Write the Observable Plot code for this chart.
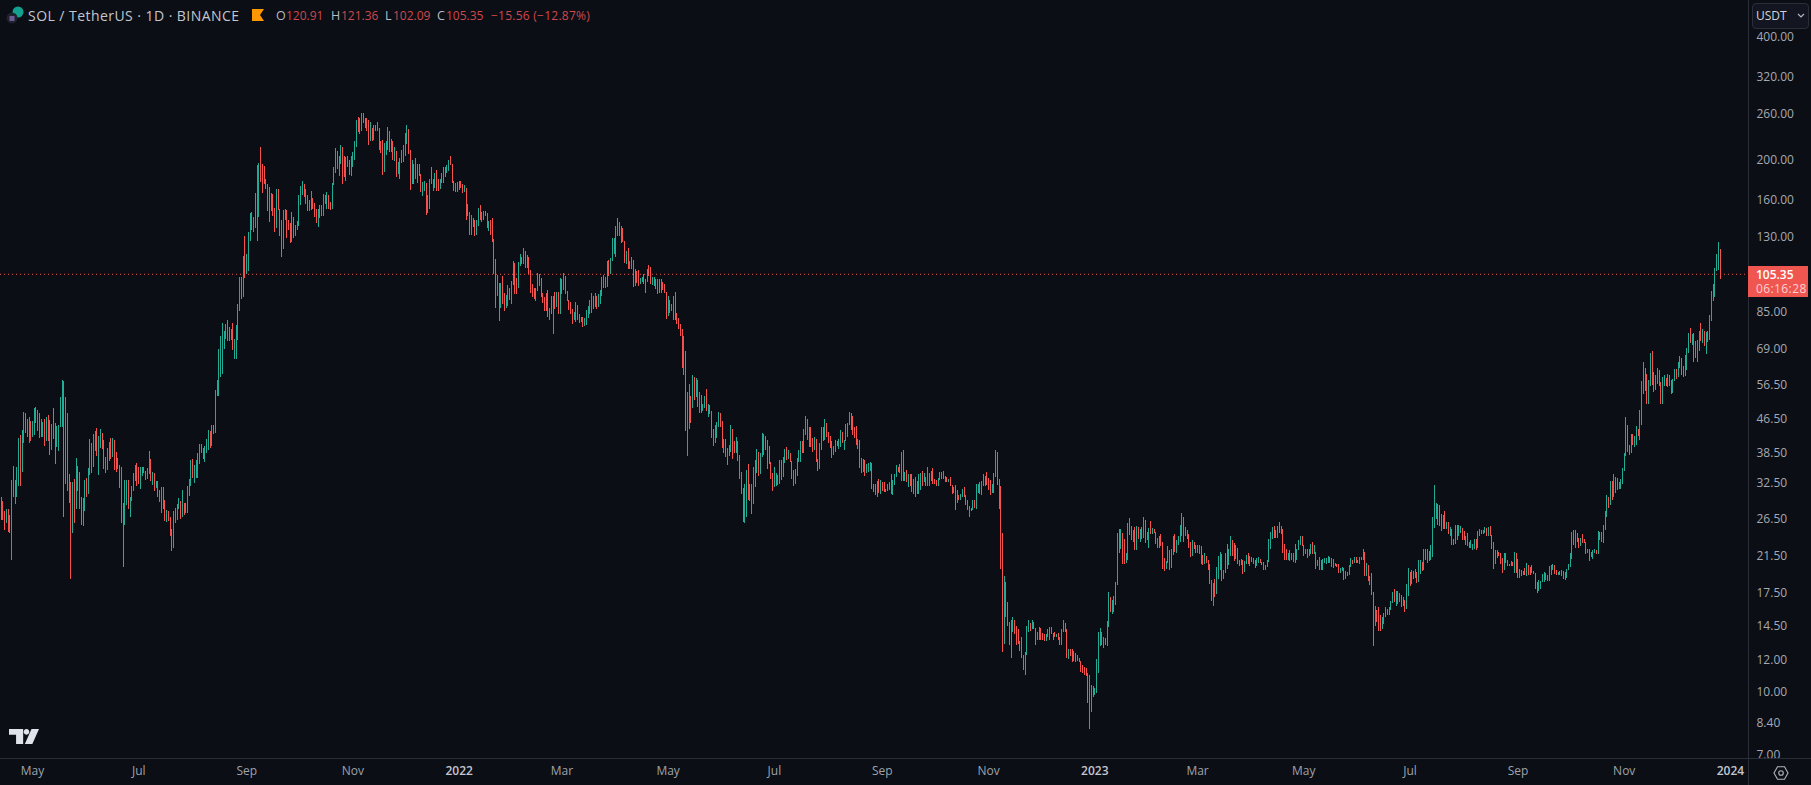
<!DOCTYPE html>
<html><head><meta charset="utf-8">
<script src="https://cdn.jsdelivr.net/npm/d3@7"></script>
<script src="https://cdn.jsdelivr.net/npm/@observablehq/plot@0.6"></script>
<style>
html,body{margin:0;padding:0;background:#0b0e14;width:1811px;height:785px;overflow:hidden;font-family:"Open Sans",sans-serif}
#chart{position:absolute;left:0;top:0}
.t{position:absolute;white-space:nowrap;line-height:16px}
.g{color:#b8bbc4;font-size:12.5px}.r{color:#d0474e;font-size:12px}
</style></head><body>
<div id="chart"></div>
<svg class="t" style="left:5px;top:5px" width="24" height="22"><circle cx="13" cy="7" r="5.5" fill="#14a08e"/><circle cx="7" cy="13" r="5.5" fill="#1e222d"/><rect x="4.5" y="11" width="5" height="5" fill="#6d5a93"/></svg>
<div class="t" style="left:28px;top:8px;font-size:14px;color:#c3c6cf;letter-spacing:.45px">SOL / TetherUS · 1D · BINANCE</div>
<svg class="t" style="left:252px;top:9px" width="13" height="13"><path d="M0 0H12L8 6L12 12H0Z" fill="#ff9800"/></svg>
<div class="t g" style="left:276px;top:8px">O</div><div class="t r" style="left:286px;top:8px">120.91</div>
<div class="t g" style="left:331px;top:8px">H</div><div class="t r" style="left:341px;top:8px">121.36</div>
<div class="t g" style="left:385px;top:8px">L</div><div class="t r" style="left:393px;top:8px">102.09</div>
<div class="t g" style="left:437px;top:8px">C</div><div class="t r" style="left:446px;top:8px">105.35</div>
<div class="t r" style="left:491px;top:8px;letter-spacing:.25px">−15.56 (−12.87%)</div>
<div class="t" style="left:1752px;top:3px;width:55px;height:24px;background:#131620;border:1px solid #2a2e39;border-radius:4px"></div>
<div class="t" style="left:1756px;top:8px;font-size:12px;color:#d1d4dc">USDT</div>
<svg class="t" style="left:1796px;top:12px" width="10" height="8"><path d="M2 2L5 5L8 2" fill="none" stroke="#b2b5be" stroke-width="1.2"/></svg>
<div class="t" style="left:1748px;top:266px;width:60px;height:31px;background:#f05650"></div>
<div class="t" style="left:1756px;top:267px;font-size:12px;font-weight:600;color:#fff">105.35</div>
<div class="t" style="left:1756px;top:281px;font-size:12px;color:#fbd0d3;letter-spacing:.4px">06:16:28</div>
<svg class="t" style="left:9px;top:729px" width="30" height="15" viewBox="0 0 36 18"><path d="M0 0H17V18H8.5V7H0ZM27 0H36L28 18H19ZM21 0a3.4 3.4 0 1 0 .01 0Z" fill="#e0e3eb"/></svg>
<svg class="t" style="left:1773px;top:765px" width="16" height="16" viewBox="0 0 16 16"><path d="M4.5 1.8H11.5L15 8L11.5 14.2H4.5L1 8Z" fill="none" stroke="#b2b5be" stroke-width="1.1"/><circle cx="8" cy="8" r="2.3" fill="none" stroke="#b2b5be" stroke-width="1.1"/></svg>
<script>
const firstOpen = 30;
const apr21 = [[26.3,30,28],[26.3,29.2,27],[24.8,27.6,25.8],[25.8,28,27],[24.6,28,24.9],[24.4,27,24.6],[21,33,31],[29.9,35.6,30],[28.8,33,31.5],[30,35.5,34],
[31.9,41.7,40],[31.9,42.5,37],[34.5,43.7,43],[40.6,48.4,45],[43,48,44],[42,46.5,43],[40.5,47,46],[41,45,44.5]];
const may21 = [[42,46,45.5],[42.4,49.4,47],[45.5,49.6,46],[43.5,49,45],[41.8,48,43],[42,46.5,44.5],[42,45.8,45],[40,46.5,41],[41,47,46],[41,47.5,45.5],
[38,46.3,39],[39.5,45.2,43.5],[41.5,49.5,42],[36,45.5,40],[39.8,44.8,43.5],[38.8,45,44.5],[44.5,52.5,51],[44.5,58,54],[26.7,57.5,36],[32.3,52.7,46],
[31,48,33.5],[29,34,31.5],[18.9,32.6,26],[24.5,32.5,31],[25.9,33.2,28],[29.2,37.3,35],[31,35.7,32],[28,34.5,29],[25.6,30,26.2],[25.4,29.7,28.5],[27.6,33,32.5]];
const jun21 = [[30,33.3,31],[30.5,35.2,34],[33.9,41.5,40.5],[34.3,39.7,35.5],[37,42.6,41],[38.9,43.4,42.5],[37.8,44.1,38.5],[33.9,42.3,39.5],[39.5,43.9,42.5],[39.3,43,40],
[35.1,41.3,36],[34.3,37.5,36.5],[34.8,39.5,39],[36.7,40.8,40],[37.1,41.8,38],[37.5,41.8,40.5],[34.9,41.3,37.5],[34.5,38.5,35],[35,37.3,35.3],[31.5,35.9,35],
[25.8,35.5,27],[20.2,29,26],[25.6,33,30],[28.7,33,31],[28,33,28.5],[26.7,30,29.5],[29.2,31.9,31.5],[31,34.3,33.5],[32.7,35.9,35],[31.8,36.2,34.5]];
const jul21 = [[32.3,35.5,33],[31.3,35.5,34.5],[33.8,35.5,35],[34.2,35.5,34.7],[33,34.7,33.3],[33.1,35.2,35],[34,38.7,37],[32.7,36.9,33],[32,34.5,33.5],[31,34.3,31.5],
[31.5,32.8,32.5],[30,32.7,30.5],[29.1,31.2,29.5],[27.4,31.6,30.5],[28,31.6,28.5],[26.2,29.5,27],[26,27.9,27.5],[26.1,27.7,26.5],[24,26.7,24.5],[22.1,25,22.5],
[22.8,27.6,26.5],[25.9,28.2,27.5],[26.3,28.8,28.5],[28,29.7,29.2],[26.4,29,26.8],[27.9,31.2,28],[27,29,27.8],[27.4,28.9,27.7],[27.4,31.9,31],[30.1,33.2,32.5],[31.9,36.9,36]];
const aug21 = [[33.4,37,34],[32.4,35.9,35],[33.4,36.8,36],[33.4,38.4,38],[36,40.4,39.5],[38.4,40.4,38.7],[37,39.5,37.5],[36.5,39.9,39.5],[38.4,41.5,41],[39.1,43.8,43.5],
[39.5,43.4,40],[40.7,44.9,44.5],[42.8,44.9,43],[43.2,54.8,54],[53,58,57],[53,69,62],[59,74,70],[60,80,71],[69,76.5,75.5],[73,79.5,78],
[72,81,74],[72,78,73],[72.5,77,76],[68.5,80,69.5],[65,73,71.5],[65,79,72.5],[72.6,89,87],[85.4,103.6,100],[91.5,103.6,92.5],[93.7,116.5,113],[102.9,130.6,108]];
const sep21 = [[105,118,115],[107,133,127],[127,148,145],[135,149.5,137],[133.5,145,138],[136.5,166,165],[127,194,170],[145,197,190],[177,215,182],[166,196,178],
[175,193,176],[170,180,172],[150,175,153],[141,172,150],[152,166,165],[146,162,149],[133,153,136],[144,170,160],[151,170,152],[130,152,136],
[116,143,121],[122,151,145],[143,152,150],[129,151,140],[135,143,136],[125,140,126],[135,149,145],[129,138,130],[132,139,138],[135,142,140]];
const oct21 = [[138,164,160],[155,173,170],[164,178,175],[162,172,164],[156,170,160],[150,164,152],[150,160,156],[151,168,160],[152,161,155],[145,157,148],
[140,152,142],[137,152,150],[144,155,146],[147,155,152],[146,165,163],[156,164,158],[152,167,164],[152,161,155],[151,158,152],[153,176,174],
[175,192,188],[186,214,210],[190,205,198],[183,205,200],[196,218,215],[175,213,185],[182,204,183],[178,203,195],[192,205,200],[184,200,187],[183,205,200]];
const nov21 = [[192,209,205],[200,223,218],[215,250,245],[234,255,240],[232,254,236],[236,260,256],[246,260,250],[239,253,241],[236,253,239],[218,250,222],
[232,248,240],[222,240,226],[224,243,238],[235,243,236],[237,248,240],[212,238,215],[208,222,210],[184,224,188],[187,220,216],[206,222,218],
[212,241,235],[209,232,212],[209,225,222],[200,221,204],[199,215,210],[182,208,185],[190,198,195],[180,202,197],[198,212,208],[198,218,212]];
const dec21 = [[205,233,228],[219,243,238],[207,238,210],[169,212,175],[178,200,190],[175,196,180],[185,202,192],[176,195,190],[183,195,185],[167,184,170],
[163,177,175],[168,178,176],[147,173,150],[148,164,160],[152,180,178],[175,192,177],[168,180,172],[171,186,182],[168,189,171],[168,180,170],
[170,180,178],[176,186,177],[176,192,190],[182,192,188],[186,194,191],[188,200,197],[194,205,196],[176,195,178],[168,178,170],[167,176,174],[167,177,170]];
const jan22 = [[169,178,176],[171,178,172],[166,175,168],[167,174,171],[143,170,148],[146,156,147],[131,149,134],[131,147,142],[137,144,140],[130,143,134],
[131,143,141],[138,153,149],[143,155,145],[141,149,147],[143,150,149],[146,150,148],[136,147,139],[134,142,140],[131,143,135],[126,144,128],
[105.5,128,107],[87,114.5,93],[93,104.5,100],[80.8,99.5,89],[87,100,94],[88.8,104,90],[85.4,94.7,87.5],[87,93.6,92],[88,99,96],[91,97,92.5],[89,101,99]];
const feb22 = [[99,113,111],[94,112,98],[94,103,97],[100,112.5,110],[110,118,115],[111,116,114.5],[111.5,122,120],[109,120,113],[109,117,110.5],[105.5,115.5,107],
[94.5,107.5,97],[92.5,99.5,94],[91.5,97.5,92.5],[90.5,97.5,96],[95.5,106,104.5],[98.5,105,100],[92.2,103,93],[89.5,94.5,90],[85.5,92.5,88],[85.5,94.5,86.5],
[82.5,96,84],[81,87,86],[84,93,84.8],[75,93,90],[86.5,95,87.5],[87.5,95,93],[84,95,85.5],[84,103,101]];
const mar22 = [[94,102,96],[96,106,104],[94,102,95],[90.5,95.5,91],[86,91,90],[84,88.8,85],[79.5,86.5,81],[81,84.8,83],[80.5,90,88],[81,88.2,82],
[79.8,84,80.5],[80.5,82.5,82],[78,82.8,79],[78.5,82,81.5],[79,86,84],[82,88,87],[84,91,89.5],[84.5,94.5,93],[86.5,92.5,88],[87.5,94.5,93],
[86.5,91.5,87.5],[87.5,94,93],[89,96,95],[93,103.5,101],[97,104.5,98.5],[97.5,103.5,102],[98,113,111],[104,114,105],[105,115,113],[114,129,122],[118,129,126]];
const apr22 = [[116,138,135],[130,144,131],[130,141,138],[125,136,127],[126,136,126.5],[112,127,113],[111,120,118],[108,122,110],[108,113,112.5],[108,115.5,114],
[98,112,100],[98.5,108.5,107],[100,106,104],[98.5,107.5,100],[99.5,103,102.5],[100.5,103.5,103],[99.5,105.5,100.5],[94.5,102,101],[100.5,108.5,107.5],[104,110.5,105],
[99.5,109.5,100.5],[99,103.5,102],[98.5,103.5,102.5],[96.5,102,97],[94,102,100],[94.5,102,95],[94.5,102,98],[96,100.5,96.5],[94.5,99.5,95],[81.5,94.5,83]];
const may22 = [[84,93,90],[84.5,91,85.5],[85.5,89,86],[81,93,91],[81,95,83],[79.5,84.5,80.5],[77,82,77.5],[74,79.5,74.5],[62,77,64],[59.5,74,67],
[43.5,68,47],[37.8,54,47],[44,56.5,52],[45.5,53,50],[49.5,59.5,58],[51.8,59,52.5],[52.5,58.5,57],[49.8,58,51],[48,54,53],[48,53.2,48.5],
[48.5,50.7,50],[49.5,53,52],[48.5,55,49],[47,50.5,49.8],[47.8,50.2,48.2],[41.7,48.6,42.5],[40,43.9,40.5],[40.5,44.9,44],[41.7,45.8,45],[44.3,48.3,47.8],[44.5,48,45]];
const jun22 = [[39.5,46,39.8],[38.4,41.5,41],[37.5,41.5,38],[35.8,39.5,39],[37.8,40.2,38.5],[38.5,45,44],[37,42.7,39],[38.4,41,38.7],[38.4,42,41],[36.7,41,37],
[33.2,38,33.8],[30.5,34.5,31.5],[26,31.2,27],[25.9,32.3,28],[26.8,34.9,33],[29.5,36,30.5],[29.3,32.3,31.5],[27.2,32.2,31.8],[28.8,35.5,34.5],[31.7,36.9,36],
[34.3,39.3,38.5],[33.8,36.9,34.2],[34,38.3,37.5],[37.8,43,42],[38,42.7,42.2],[39,42.3,39.5],[35,41.3,38.5],[36,40,36.5],[33.2,36,33.8],[31,34.3,31.6]];
const jul22 = [[31.9,35.5,32],[31.9,34.3,33.8],[32.1,33.9,33.6],[32.3,36.9,36.5],[33,36.9,33.5],[34.9,37.5,37],[36.2,39.3,38.8],[36.9,39.7,37.2],[37,39,38],[36.4,38.4,36.6],
[33.2,36.7,33.5],[31.9,34.9,32.2],[32.5,35.1,34.7],[33.8,37.3,37],[36.4,39.1,38.7],[36.4,41.1,40.5],[38.4,41.1,38.8],[38.4,43.9,43],[42.5,47.3,46.5],[41.3,46.3,41.8],
[39.7,44.3,43.7],[39.7,44.3,40],[38.6,41.8,39],[39.5,42,41.5],[36.4,41.1,37],[34.7,36.9,35],[35.9,40.7,40],[39,44.3,43.5],[41,44.5,42],[41.3,46.5,45.5],[42,45.2,42.5]];
const aug22 = [[40.7,43.2,41.2],[39.5,42.3,40],[37.3,41.1,38.5],[38,40,39.6],[38.6,41.3,41],[40,41,40.3],[39.3,41.5,41],[39.7,43.7,43.2],[40.5,42.7,41],[39.1,41.3,41],
[42,45.2,44.7],[42,45.5,45],[45.2,48.4,47.8],[43.7,48.2,44],[42.5,47.3,43],[41.7,44.3,42],[40.2,44.7,41],[39.3,41.5,41.2],[35.3,39.5,35.7],[34.3,37.3,34.6],
[34.5,37.1,36.8],[33.8,36.4,34.2],[34.5,36,35.7],[34.5,36.2,35.9],[34.7,36.4,36.2],[31.4,35.7,31.8],[30.8,32.3,31.1],[30.2,32.3,30.4],[30,32.7,32.3],[30.7,33.2,31],[30.5,33,32.5]];
const sep22 = [[31,32.6,31.5],[30.8,32.5,31],[30.8,31.3,31],[31,32.3,32],[31.2,32.5,32.3],[30.5,34,31],[30.3,33,32.8],[32,34,33.8],[33.6,35.9,35.5],[34.5,35.5,35.2],
[34.3,36,34.6],[32.8,38.5,38],[32.8,39.1,33],[32.7,34.5,34.2],[32.5,34.9,32.8],[31.6,34,33.8],[31.8,34,32.2],[30.8,34,31],[30.5,33.2,33],[30,33.6,30.4],
[31.2,32.8,31.5],[30.5,34,33.7],[31.2,34.3,34],[31.9,34.7,32.5],[33.2,34.3,33.4],[31.9,33.6,32.2],[31.9,35.5,33],[31.8,34.3,34],[32.7,34.7,34.4],[32.3,35.3,33]];
const oct22 = [[32.3,33.2,32.5],[31.8,33,32],[31.8,33.4,33.1],[33,34.5,34.2],[33.2,34.5,33.4],[33.2,34.7,33.3],[32.5,33.8,33.6],[32.5,33.2,33],[32.5,33.2,33.1],[31.8,33.6,32],
[30.5,31.9,30.8],[30.7,31.6,31.4],[27.9,32.1,29],[29.7,31.2,29.9],[29.5,30.2,29.7],[29.5,30.5,30.2],[29.9,31.4,31.2],[29.9,31.6,30],[28.6,30.3,28.8],[27.9,29.5,28],
[26.8,28.4,28.2],[27.6,28.2,28.1],[27.8,29.5,29.3],[28.2,29.5,28.5],[28,32.3,32],[30.7,32.3,32.1],[30.5,32.5,30.8],[30.2,32.7,32.4],[31.9,34,33.7],[31.9,33.6,33.4],[32.1,34.5,32.5]];
const nov22 = [[31.2,33.4,31.5],[30.3,33,31],[30.7,32.3,32],[30.7,34.3,34],[33.6,39,38.5],[32.1,37.1,32.5],[28,33.2,28.5],[20,31.8,21],[12.5,24.5,14.2],[13.1,19.2,17],
[15.2,18.5,15.7],[14.5,16.6,14.8],[13,14.7,13.2],[12.1,15,14],[14,15.2,15],[13.8,14.7,14],[13,14.5,13.7],[13.1,14.2,13.2],[12.6,13.3,12.9],[12.1,13.6,12.3],
[11.3,12.3,11.8],[11,12.5,12.3],[12.4,14.5,14.2],[14,15,14.7],[14.1,14.7,14.2],[14.2,15,14.8],[14.2,14.5,14.3],[13,14.2,13.4],[13.4,14,13.8],[13.4,14.4,14.2]];
const dec22 = [[13.4,14.3,13.6],[13.4,13.9,13.5],[13.3,13.8,13.4],[13.3,13.8,13.7],[13.6,14.2,14],[13.4,14.4,14.3],[13.8,14.4,13.9],[13.4,13.8,13.7],[13.6,14,13.65],[13.6,13.8,13.75],
[13.4,13.9,13.5],[13,13.6,13.1],[13,14.2,14],[14,15,14.7],[14,14.6,14.1],[12.1,14.2,12.4],[12,12.7,12.5],[12.2,12.7,12.3],[11.8,12.7,11.9],[11.9,12.6,12.4],
[11.8,12.3,12],[11.9,12.3,11.95],[11.8,12.1,11.9],[11.2,11.9,11.4],[11.1,11.6,11.2],[11,11.5,11.1],[10.9,11.4,11],[9.4,11.1,9.8],[8.1,11,8.9],[9.05,10.4,9.9],[9.7,10.3,10.1]];
const jan23 = [[9.8,10.2,10.15],[9.9,12,11.3],[11.1,14,13.3],[12.9,14.3,14],[13,14,13.4],[12.8,13.6,13.5],[13,13.5,13.1],[12.9,14.9,14.7],[14.4,17.5,17],[15.7,16.8,16.1],
[15.5,16.8,16.6],[15.7,17.1,16.9],[16.3,18.6,18.3],[18.2,24.5,23.8],[21.9,25,22.3],[22.4,25,24.4],[20.5,24,22],[20.5,23.7,21],[20.7,21.8,21.5],[21,25.9,25.3],
[24.2,26.6,24.8],[23.5,25.4,23.8],[23.2,24.9,24.6],[22.2,25.3,22.6],[22.2,25.4,25],[23.7,25.3,24],[23.2,25,24.7],[23.7,25.3,24],[23.8,26.8,26],[23.1,26.3,23.5],[23.7,24.6,24.2]];
const feb23 = [[22.5,25.2,24.7],[24.3,26.2,24.4],[24.3,25.2,25],[24.4,25,24.6],[23,24.6,23.2],[22.5,23.8,23.5],[22.5,24,22.9],[22.7,24.3,22.8],[20,23.3,20.4],[19.7,21.2,20],
[20,20.9,20.7],[20.6,22.7,22.2],[19.8,21.6,20.1],[20.6,22.3,22],[21.6,24.1,23.8],[22,24.3,22.6],[21.9,23.5,23.2],[22.9,24,23.7],[23.2,25.6,25.2],[24.1,27.3,26.8],
[23.2,26.8,24],[24.6,25.3,24.8],[23.7,24.8,24],[22.5,24.3,22.8],[21.3,23.3,21.5],[22.2,23.5,23.2],[22.3,23.3,22.6],[21.9,22.8,22]];
const mar23 = [[21.9,22.8,22.4],[21.7,22.9,22.7],[20.5,21.9,20.7],[20.4,21.6,20.5],[20.9,21.8,21.5],[20.6,21.2,20.8],[19.8,21,20],[18.3,20.5,18.6],[16.7,18.8,17],[16.2,18.4,17.7],
[17,18.9,17.3],[17.9,20.2,19.8],[18.9,21.5,21],[19.8,22,21.7],[18.7,21.5,19],[18.9,19.9,19.7],[19.5,21.8,21.5],[20,23,20.4],[21,22.4,22.2],[21.5,24,23.5],
[21.5,23.3,23.1],[20.9,23,21.4],[21.1,22.9,22.5],[20.5,22.2,20.8],[20.3,21,20.4],[20.5,21.1,21],[19.4,21,19.6],[19.7,20.9,20.7],[20.5,21.6,21.4],[20.5,21.8,20.7],[20.3,21.5,21.2]];
const apr23 = [[20.8,21.3,21],[20.5,21.2,20.6],[20.1,21,20.3],[20.5,21.2,21],[20.6,21.3,21.1],[20.6,21,20.7],[20.4,20.8,20.5],[19.9,20.8,20.1],[19.9,20.4,20.3],[20.2,21,20.9],
[20.8,23.7,23.4],[22.3,24.6,24.2],[23.7,25.3,25],[23.8,25.4,24.9],[23.8,24.8,24.1],[23.8,25.4,25.1],[24.5,26,24.8],[24.3,25.4,25],[21.9,25,22.3],[21,23,21.4],
[21,22.4,21.2],[21,21.8,21.6],[20.9,22.2,21],[21,21.9,21.2],[20.8,21.9,21.7],[20.6,23,21],[21.1,22.4,22.2],[22.2,23.5,23],[22.9,24,23.1],[22.7,24.1,22.8]];
const may23 = [[21.5,22.9,21.7],[21.7,22.3,22.1],[21.2,22.3,21.5],[21.7,22.4,21.9],[21.7,23,22.8],[21.7,23.2,21.9],[21.7,22.8,22],[20,21.8,20.3],[20.6,21,20.9],[19.8,21.3,21],
[19.8,20.9,20],[19.9,21.1,20.9],[20.6,21.2,21],[20.5,21.2,21.1],[20.6,21.5,21.4],[20.6,21.1,20.7],[20.2,21.2,21],[20.1,21.1,20.3],[20.3,20.6,20.5],[20.2,20.5,20.45],
[19.5,20.5,19.6],[19.5,20.1,19.7],[19.7,20.2,20],[18.8,20.1,19],[18.9,19.7,19.5],[19.2,19.6,19.4],[19.3,20.4,20.2],[20.5,21.2,21],[20.5,21,20.9],[20.6,21.3,21.1],[20.6,21.3,20.8]];
const jun23 = [[20.6,21,20.7],[20.5,21.3,21.2],[21,21.3,21.25],[21,22.3,22],[19.2,22,19.6],[19.2,20.6,20.4],[18.7,20.4,18.9],[18.2,19.2,19],[17.2,19.5,17.5],[12.9,17.5,14.5],
[14.9,16.2,15.2],[14.8,15.8,15],[14.1,16.1,14.4],[14.1,15.4,14.3],[14.2,15.2,15],[14.6,15.6,15.4],[15.2,16.1,15.9],[15.4,15.9,15.6],[15.4,16.1,15.9],[15.8,16.7,16.5],
[16.6,17.5,17.3],[16.6,17.8,16.8],[16.2,17.6,17.4],[16.4,17.6,16.6],[16.6,17.4,17.2],[16.1,17.2,16.4],[16.2,17,16.8],[15.7,16.7,15.9],[15.9,18.3,18],[17.1,20.1,19.6]];
const jul23 = [[18.1,19,18.3],[18.7,19.8,19.5],[18.9,19.7,19],[19.2,20,19.3],[18.4,19.6,18.6],[18.9,21,20.7],[19.4,21,20.8],[19.7,20.7,20],[19.9,22.4,22],[21,22.3,21.3],
[20.6,22.4,22.1],[20.9,21.8,21],[21.2,22.8,21.5],[21.3,26.8,26.3],[25.2,32,27.5],[26.5,29,28.5],[25.6,28.8,27],[25.4,28.6,25.8],[24.7,27.2,25.2],[25,27,26.6],
[25,27.6,25.5],[25,26,25.9],[24.3,26,24.5],[24.1,25.3,25],[22.9,24.9,23.2],[22.8,23.7,23],[23.1,25.6,25.2],[23.5,25.6,24],[24.5,25.6,24.7],[24.5,25.4,25.1],[23.5,25.2,23.8]];
const aug23 = [[23.5,24.7,23.6],[22.9,24.1,23.7],[22.7,24.4,22.9],[22.5,23.3,22.6],[22.5,23.5,22.7],[22.2,23,22.9],[22.3,23.7,23.5],[22.2,23.7,22.5],[23,24.7,24.4],[24.1,25,24.8],
[24.3,24.9,24.6],[24.3,24.9,24.7],[24.4,25.3,25.1],[24.1,25,24.3],[24,25.3,25],[24,25.4,24.2],[22.3,24.1,22.6],[20,23.3,20.5],[20.9,22.2,21.9],[21.2,22.2,22],
[21.5,22,21.6],[20.5,21.8,20.8],[19.5,21.2,19.8],[20.5,21.8,21.5],[20.6,21.9,20.8],[20.3,21,20.4],[20.3,20.5,20.35],[20.3,20.9,20.8],[20.3,20.8,20.35],[19.5,22,21.7],[19.5,21.9,19.9]];
const sep23 = [[19,21.1,19.3],[19,20,19.2],[19.2,19.8,19.6],[19.3,19.7,19.65],[19.3,20.1,19.4],[19.2,20.6,20.4],[19.3,20.4,20.2],[19.3,20.1,19.95],[19.5,20.4,19.7],[19.4,19.7,19.45],
[17.8,19.5,18],[17.4,18.5,17.6],[17.6,18.8,18.5],[17.8,18.7,18.6],[18.7,19.4,19.2],[18.6,19.6,19.4],[18.8,19.5,18.9],[18.7,19.3,18.75],[18.7,20.3,20],[19.3,20.4,20.2],
[19.9,20.5,20.4],[19.4,20.4,19.6],[19.3,19.9,19.35],[19.3,19.6,19.5],[19.3,19.7,19.4],[19.2,19.8,19.7],[18.9,19.6,19],[18.8,19.6,19.3],[19,20,19.8],[19.9,20.5,20.3]];
const oct23 = [[20.2,21.8,21.5],[21.1,24.6,24.2],[22.9,24.8,23.3],[22.5,24.8,24.4],[23.2,24,23.4],[22.5,23.8,22.8],[22.7,23.8,23.5],[23.1,24.3,23.3],[23.1,23.7,23.2],[21.7,23.3,21.9],
[21.9,22.4,22.2],[20.9,22.4,21.3],[21.5,22,21.9],[21.1,22.2,22],[21.9,22.3,22.2],[21.7,22.2,21.75],[21.8,24.7,24.4],[23.5,24.6,23.7],[23.2,24.6,23.4],[23.1,25.6,25],
[24.9,27.6,27.2],[26.8,30.3,29.5],[28.2,30,28.6],[29,32.8,32.4],[29.5,32.7,30.5],[30,34,33.5],[30.7,33.4,33],[31.2,33.4,31.5],[31.4,32.5,31.6],[31.4,33.2,33],[32.3,35.3,34.7]];
const nov23 = [[34.7,38.3,37.9],[37.7,47,45],[38.6,44.5,39.5],[38,40.2,38.3],[39.1,42.8,42.3],[40.2,42.8,40.6],[39.7,42.3,42],[40.2,44.7,44],[42.3,43.9,43.5],[41.3,48.9,48],
[45,57.5,56],[53.5,64,60],[54.3,62,55],[50.7,60,52],[50.7,57.9,57],[56,67.4,66],[56.4,68,58],[54,60.5,59.5],[54.8,59,58.5],[56.5,61.8,61],
[56,61.3,56.5],[50.7,57.2,51.5],[50.7,58.8,58],[56,59.4,58.7],[56,58.2,57.8],[55.7,59.9,59.5],[56,58.8,56.5],[53.6,57.9,54],[53.8,58.3,58],[57.5,61.6,61]];
const dec23 = [[58.2,61.6,60.5],[58.9,63.9,63.4],[61.9,66.2,62.5],[59.4,65.5,60],[58.8,62.7,59.2],[60.3,66.5,66],[61.3,69.3,69],[67.5,75.5,75],[71.5,77.7,72.5],[70.5,75,74.5],
[63.9,75.5,68],[65.5,72,66],[64,72.6,72],[68,76.3,75.5],[72.2,79.6,73],[71.2,77.3,76.5],[70.2,75.5,71],[67,75.8,75],[71.8,76.3,73],[72.6,83.5,83],
[80.8,95.6,94],[90.4,99.5,99],[92.5,109,107],[107,117.5,115],[107.6,126,120.91],[102.09,121.36,105.35]];

const monthStarts = ["2021-04-13","2021-05-01","2021-06-01","2021-07-01","2021-08-01","2021-09-01","2021-10-01","2021-11-01","2021-12-01",
"2022-01-01","2022-02-01","2022-03-01","2022-04-01","2022-05-01","2022-06-01","2022-07-01","2022-08-01","2022-09-01","2022-10-01","2022-11-01","2022-12-01",
"2023-01-01","2023-02-01","2023-03-01","2023-04-01","2023-05-01","2023-06-01","2023-07-01","2023-08-01","2023-09-01","2023-10-01","2023-11-01","2023-12-01"];
const monthBars = [apr21,may21,jun21,jul21,aug21,sep21,oct21,nov21,dec21,jan22,feb22,mar22,apr22,may22,jun22,jul22,aug22,sep22,oct22,nov22,dec22,jan23,feb23,mar23,apr23,may23,jun23,jul23,aug23,sep23,oct23,nov23,dec23];
const yTicks = [400,320,260,200,160,130,85,69,56.5,46.5,38.5,32.5,26.5,21.5,17.5,14.5,12,10,8.4,7];
const monthTicks = [["2021-05-01","May"],["2021-07-01","Jul"],["2021-09-01","Sep"],["2021-11-01","Nov"],["2022-03-01","Mar"],["2022-05-01","May"],["2022-07-01","Jul"],["2022-09-01","Sep"],["2022-11-01","Nov"],["2023-03-01","Mar"],["2023-05-01","May"],["2023-07-01","Jul"],["2023-09-01","Sep"],["2023-11-01","Nov"]];
const yearTicks = [["2022-01-01","2022"],["2023-01-01","2023"],["2024-01-01","2024"]];
const lastPrice = 105.35;

const DAY = 864e5, utc = s => new Date(s + "T00:00:00Z");
const upColor = "#22ab94", downColor = "#f7514e";
let prev = firstOpen; const bars = [];
monthBars.forEach((m, k) => m.forEach(([l, h, c], i) => {
  const o = prev; prev = c;
  bars.push({date: new Date(+utc(monthStarts[k]) + i * DAY), open: o, close: c,
    low: Math.min(l, o, c), high: Math.max(h, o, c), color: c >= o ? upColor : downColor});
}));
const may1 = +utc("2021-05-01"), pxDay = 1.7415;
const dateAt = px => new Date(may1 + (px - 32) / pxDay * DAY);
const x0 = dateAt(0), x1 = dateAt(1748), xFar = dateAt(1811);
const yBottom = 6.88, yTop = 492.7, yFar = 5.9;
const tickMap = new Map([...monthTicks, ...yearTicks].map(([d, t]) => [+utc(d), t]));
const fmtX = d => tickMap.get(+d);
const bg = "#0b0e14", line = "#2a2e39";

document.getElementById("chart").append(Plot.plot({
  width: 1811, height: 785, marginLeft: 0, marginRight: 63, marginTop: 0, marginBottom: 27,
  style: {background: "transparent", fontFamily: "'Open Sans',sans-serif", fontSize: "12px"},
  x: {type: "utc", domain: [x0, x1], range: [0, 1748], axis: null},
  y: {type: "log", domain: [yBottom, yTop], range: [758, 0], axis: null},
  color: {type: "identity"},
  marks: [
    Plot.ruleY([lastPrice], {stroke: downColor, strokeWidth: 1, strokeDasharray: "1 3"}),
    Plot.ruleX(bars, {x: "date", y1: "low", y2: "high", stroke: "color", strokeWidth: 1, shapeRendering: "crispEdges"}),
    Plot.ruleX(bars, {x: "date", y1: "open", y2: "close", stroke: "color", strokeWidth: 1, shapeRendering: "crispEdges"}),
    Plot.text(yTicks, {x: () => x1, y: d => d, text: d => d.toFixed(2), textAnchor: "start", dx: 8, fill: "#a6a9b2"}),
    Plot.rect([0], {x1: () => x0, x2: () => xFar, y1: () => yBottom, y2: () => yFar, fill: bg}),
    Plot.ruleX([x1], {y1: yTop, y2: yFar, stroke: line, strokeWidth: 1}),
    Plot.ruleY([yBottom], {x1: x0, x2: xFar, stroke: line, strokeWidth: 1}),
    Plot.axisX({anchor: "bottom", ticks: monthTicks.map(d => utc(d[0])), tickSize: 0, tickPadding: 8, tickFormat: fmtX, fill: "#9fa2ab", label: null}),
    Plot.axisX({anchor: "bottom", ticks: yearTicks.map(d => utc(d[0])), tickSize: 0, tickPadding: 8, tickFormat: fmtX, fill: "#c3c6cf", fontWeight: 600, label: null})
  ]
}));
</script>
</body></html>
